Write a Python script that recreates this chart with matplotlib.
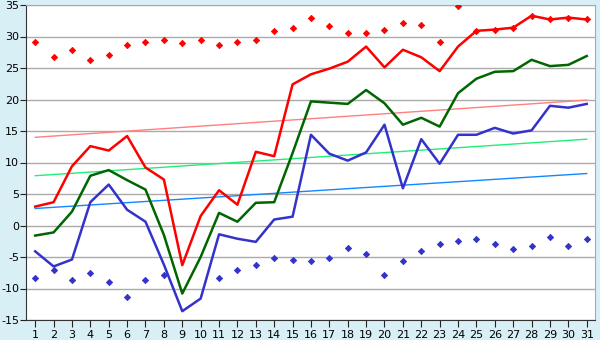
import matplotlib
matplotlib.use("Agg")
import matplotlib.pyplot as plt
import numpy as np

plt.rcParams["axes.unicode_minus"] = False

days = list(range(1, 32))
red_line = [3.0, 3.7, 9.4, 12.6, 11.9, 14.2, 9.2, 7.3, -6.3, 1.5,
            5.6, 3.3, 11.7, 11.0, 22.4, 24.0, 24.9, 26.0, 28.4, 25.1,
            27.9, 26.7, 24.5, 28.4, 30.9, 31.1, 31.4, 33.3, 32.7, 33.0, 32.7]
green_line = [-1.6, -1.1, 2.2, 7.9, 8.8, 7.2, 5.7, -1.5, -10.8, -5.0,
              2.0, 0.6, 3.6, 3.7, 11.5, 19.7, 19.5, 19.3, 21.5, 19.4,
              16.0, 17.1, 15.7, 21.0, 23.3, 24.4, 24.5, 26.3, 25.3, 25.5, 26.9]
blue_line = [-4.1, -6.5, -5.4, 3.7, 6.5, 2.5, 0.6, -6.2, -13.6, -11.6,
             -1.4, -2.1, -2.6, 0.95, 1.4, 14.4, 11.4, 10.3, 11.6, 16.0,
             5.9, 13.7, 9.8, 14.4, 14.4, 15.5, 14.6, 15.1, 19.0, 18.7, 19.3]
red_points = [29.2, 26.7, 27.8, 26.3, 27.0, 28.6, 29.2, 29.5, 29.0, 29.4,
              28.6, 29.2, 29.4, 30.9, 31.4, 32.9, 31.7, 30.6, 30.6, 31.1,
              32.1, 31.9, 29.2, 34.8, 30.9, 31.1, 31.4, 33.3, 32.7, 33.0, 32.7]
blue_points = [-8.3, -7.0, -8.7, -7.5, -9.0, -11.4, -8.7, -7.8, np.nan, np.nan,
               -8.4, -7.1, -6.2, -5.1, -5.4, -5.6, -5.2, -3.5, -4.6, -7.9,
               -5.6, -4.1, -3.0, -2.5, -2.1, -2.9, -3.8, -3.2, -1.9, -3.2, -2.2]
trend_days = [1, 31]
red_trend = [14.0, 19.9]
green_trend = [7.9, 13.7]
blue_trend = [2.7, 8.25]

yticks = list(range(-15, 36, 5))

bg = "#d9eff6"
fig = plt.figure(figsize=(6, 3.4), dpi=100, facecolor=bg)
ax = fig.add_axes([26/600, 1 - 320/340, (595-26)/600, (320-5)/340])
ax.set_facecolor("white")

for yv in yticks:
    ax.axhline(yv, color="#aaaaaa", lw=1, zorder=0)

ax.plot(trend_days, red_trend, color="#ff8080", lw=1, zorder=1)
ax.plot(trend_days, green_trend, color="#22ee77", lw=1, zorder=1)
ax.plot(trend_days, blue_trend, color="#1188ff", lw=1, zorder=1)

ax.plot(days, red_line, color="#ff0000", lw=1.8, zorder=3)
ax.plot(days, green_line, color="#006600", lw=1.8, zorder=3)
ax.plot(days, blue_line, color="#3333cc", lw=1.8, zorder=3)

ax.plot(days, red_points, linestyle="none", marker="D", markersize=3.2,
        color="#ff0000", markeredgewidth=0.6, zorder=4)
ax.plot(days, blue_points, linestyle="none", marker="D", markersize=3.2,
        color="#3333cc", markeredgewidth=0.6, zorder=4)

ax.set_xlim(0.5, 31.45)
ax.set_ylim(-15, 35)
ax.set_xticks(days)
ax.set_yticks(yticks)
ax.set_yticklabels([str(v) for v in yticks])
ax.tick_params(axis="both", labelsize=8, length=4, color="#222222", pad=2)
ax.tick_params(axis="x", length=5)
ax.tick_params(axis="y", pad=1)
for side in ["top", "right"]:
    ax.spines[side].set_color("#aaaaaa")
for side in ["left", "bottom"]:
    ax.spines[side].set_color("#333333")

fig.savefig("out.png", dpi=100, facecolor=bg)
